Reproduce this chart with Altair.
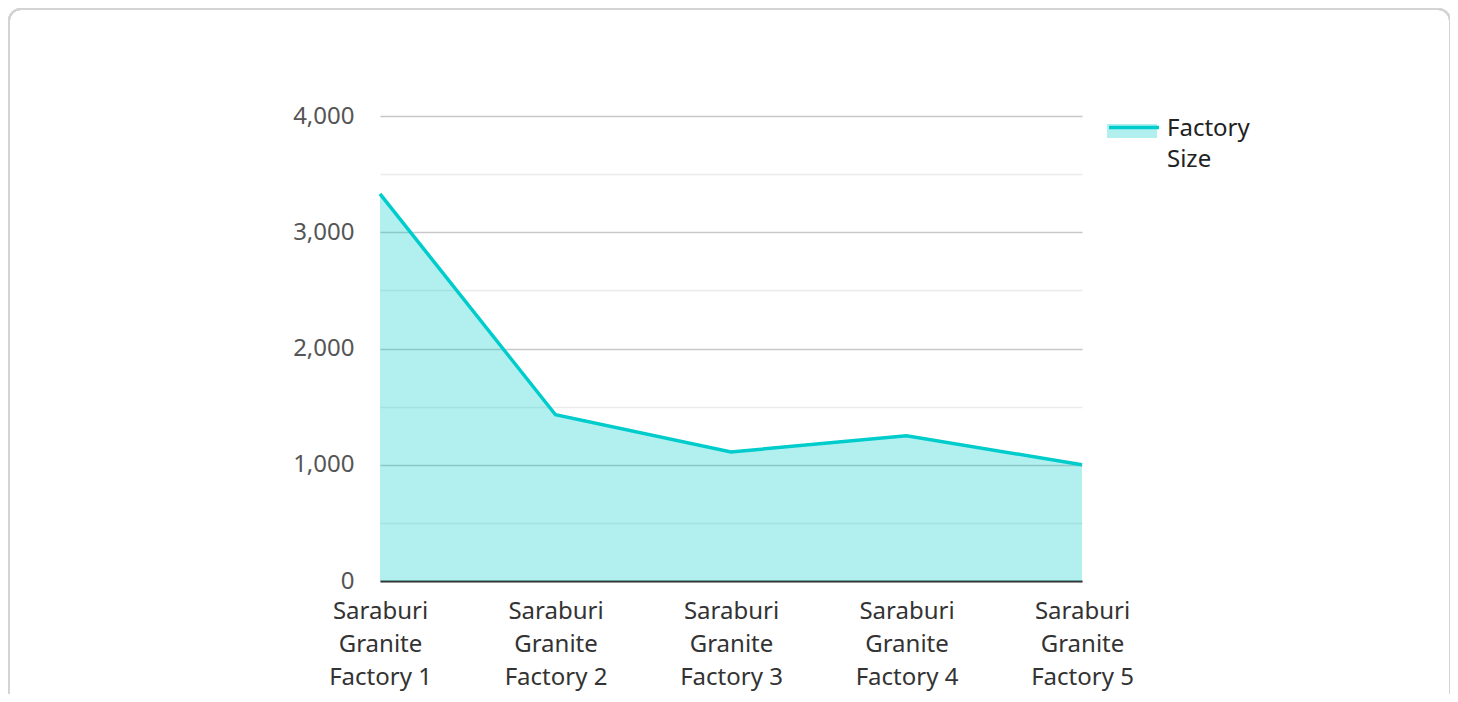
import altair as alt
import pandas as pd

categories = [
    "Saraburi Granite Factory 1",
    "Saraburi Granite Factory 2",
    "Saraburi Granite Factory 3",
    "Saraburi Granite Factory 4",
    "Saraburi Granite Factory 5",
]
factory_size = [3330, 1430, 1110, 1250, 1000]
series_name = "Factory Size"
y_ticks = [0, 500, 1000, 1500, 2000, 2500, 3000, 3500, 4000]

df = pd.DataFrame({
    "factory": categories,
    "size": factory_size,
    "series": [series_name] * len(categories),
    "series_line": [series_name] * len(categories),
})

TEAL = "#00CCCC"
FONT = "Noto Sans"

x_enc = alt.X(
    "factory:N",
    sort=categories,
    scale=alt.Scale(type="point", padding=0),
    axis=alt.Axis(
        title=None,
        labelAngle=0,
        ticks=False,
        domain=True,
        domainColor="#333333",
        domainWidth=2,
        labelFont=FONT,
        labelFontSize=24,
        labelColor="#333333",
        labelLineHeight=33,
        labelPadding=18,
        labelBaseline="top",
        labelExpr="split(replace(datum.label, 'Factory ', 'Factory\u00a0'), ' ')",
        grid=False,
    ),
)
y_enc = alt.Y(
    "size:Q",
    scale=alt.Scale(domain=[0, 4000], nice=False),
    axis=alt.Axis(
        title=None,
        values=y_ticks,
        labelExpr="datum.value % 1000 === 0 ? format(datum.value, ',') : ''",
        domain=False,
        ticks=False,
        grid=True,
        gridColor=alt.condition("datum.value % 1000 === 0", alt.value("#C8C8C8"), alt.value("#EBEBEB")),
        gridWidth=1.5,
        labelFont=FONT,
        labelFontSize=24,
        labelColor="#555555",
        labelPadding=26,
    ),
)

common_legend = dict(
    title=None,
    orient="none",
    legendX=727,
    legendY=-14,
    padding=0,
    symbolSize=2500,
    labelFont=FONT,
    labelFontSize=24,
    labelColor="#222222",
    labelOffset=6,
    labelLimit=300,
)

area_legend = alt.Legend(
    symbolType="M-1,-0.12H1V0.44H-1Z",
    symbolStrokeWidth=0,
    symbolOpacity=0.3,
    labelExpr="['', '']",
    zindex=1,
    **common_legend,
)
line_legend = alt.Legend(
    symbolType="M-1,-0.06H1",
    symbolStrokeWidth=3.5,
    labelExpr="split(datum.label, ' ')",
    zindex=2,
    **common_legend,
)

frame = alt.Chart(df).mark_rect(
    fill="transparent", stroke="#D4D4D4", strokeWidth=2, cornerRadius=12
).encode(
    x=alt.value(-371), x2=alt.value(1070), y=alt.value(-107), y2=alt.value(620)
)

area = alt.Chart(df).mark_area(fillOpacity=0.3, line=False, strokeWidth=0).encode(
    x=x_enc,
    y=y_enc,
    fill=alt.Fill("series:N", scale=alt.Scale(range=[TEAL]), legend=area_legend),
)

line = alt.Chart(df).mark_line(strokeWidth=3.5).encode(
    x=x_enc,
    y=y_enc,
    stroke=alt.Stroke("series_line:N", scale=alt.Scale(range=[TEAL]), legend=line_legend),
)

chart = (
    alt.layer(frame, area, line)
    .properties(
        width=702,
        height=465,
        autosize=alt.AutoSizeParams(type="none"),
        padding={"left": 372, "top": 108, "right": 368, "bottom": 113},
        view=alt.ViewBackground(stroke="transparent", strokeWidth=0, strokeOpacity=0),
    )
    .resolve_legend(fill="independent", stroke="independent")
    .configure_view(stroke="transparent", strokeWidth=0, strokeOpacity=0)
    .configure(font=FONT, style={"guide-label": {"lineHeight": 31}})
)

chart.save("out.html", embed_options={"renderer": "svg", "actions": False})
